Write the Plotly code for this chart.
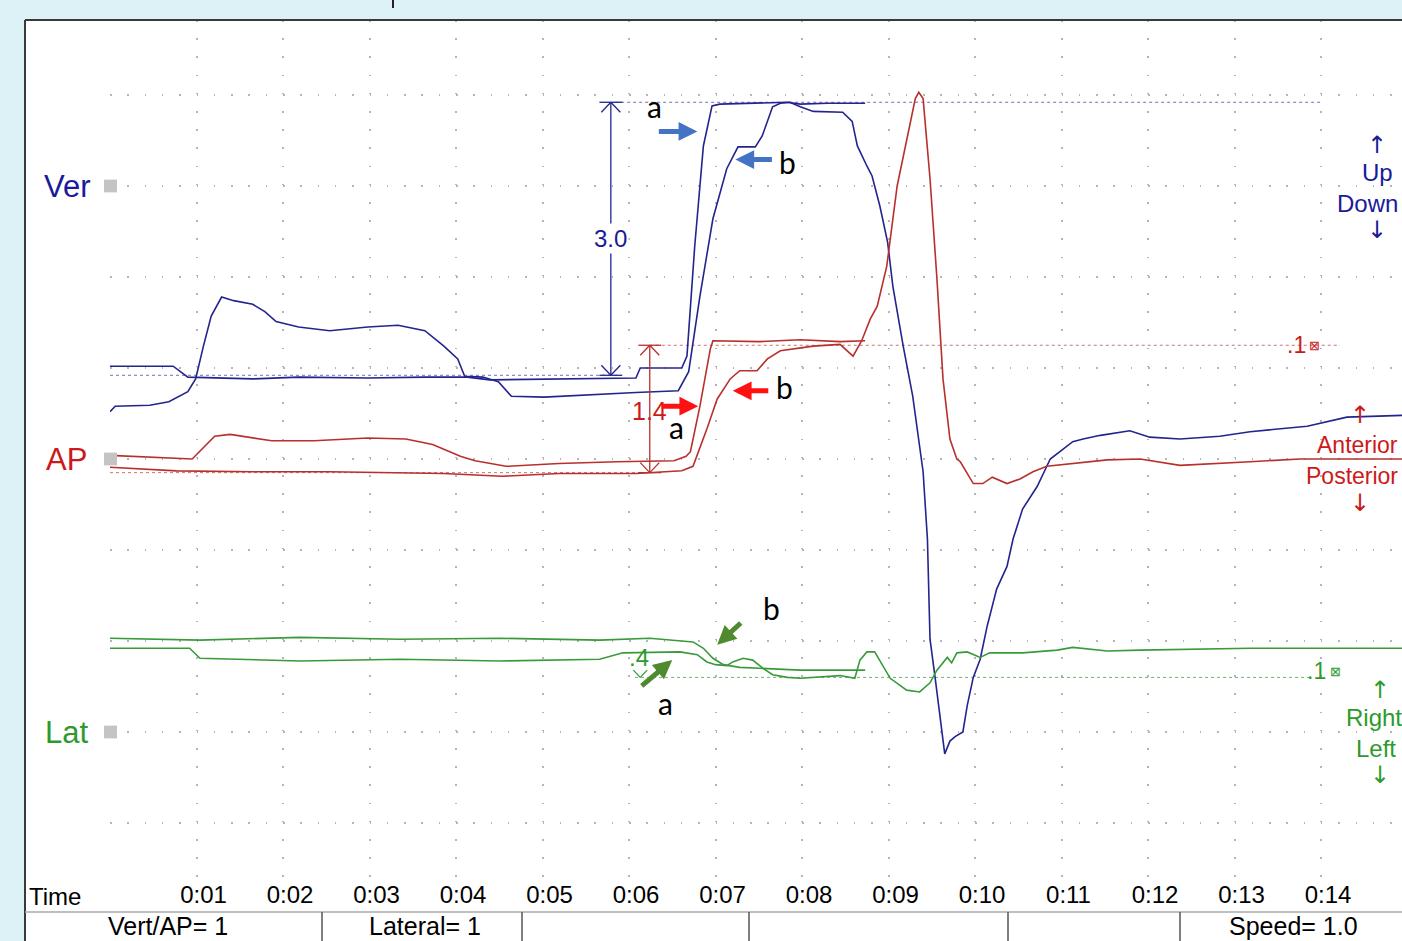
import plotly.graph_objects as go

FONT = "Liberation Sans, Arial, sans-serif"
FONT_AB = "Lato, Liberation Sans, sans-serif"
FONT_ARROW = "DejaVu Sans, sans-serif"

# ---------------- data ----------------
tick_secs = list(range(0, 15))
tick_text = [""] + ["0:%02d" % s for s in range(1, 15)]

channel_names = ["Ver", "AP", "Lat"]
channel_offset = [6, 3, 0]          # display row of each channel (divisions)

# Vertical channel (units) vs time (s)
ver_a_t = [0, 0.73, 0.90, 1.65, 2.18, 2.98, 3.64, 4.13, 4.39, 5.02, 5.68, 6.08, 6.13, 6.61,
           6.67, 6.76, 6.86, 6.96, 7.05, 7.51, 7.83, 7.98, 8.30, 8.73]
ver_a_v = [-1.98, -1.98, -2.10, -2.12, -2.10, -2.11, -2.10, -2.10, -2.13, -2.12, -2.11, -2.11,
           -2.00, -2.00, -1.87, -0.66, 0.44, 0.88, 0.90, 0.91, 0.92, 0.90, 0.91, 0.91]

ver_b_t = [0, 0.06, 0.46, 0.68, 0.90, 0.99, 1.08, 1.17, 1.29, 1.43, 1.65, 1.79, 1.92, 2.18,
           2.54, 2.98, 3.33, 3.64, 3.86, 4.02, 4.10, 4.31, 4.49, 4.64, 5.02, 5.41, 6.08, 6.57,
           6.69, 6.82, 6.97, 7.13, 7.26, 7.46, 7.54, 7.66, 7.75, 7.86, 7.98, 8.13, 8.47, 8.58,
           8.64, 8.75, 8.81, 8.90, 8.99, 9.05, 9.17, 9.28, 9.40, 9.45, 9.48, 9.54, 9.60, 9.65,
           9.71, 9.77, 9.86, 9.91, 9.98, 10.06, 10.14, 10.25, 10.37, 10.44, 10.55, 10.72, 10.87,
           11.13, 11.25, 11.45, 11.79, 12.02, 12.37, 12.83, 13.18, 13.53, 13.84, 14.30, 14.94]
ver_b_v = [-2.48, -2.42, -2.41, -2.37, -2.26, -2.12, -1.76, -1.43, -1.22, -1.26, -1.30, -1.38,
           -1.49, -1.55, -1.59, -1.55, -1.53, -1.59, -1.76, -1.90, -2.09, -2.10, -2.15, -2.31,
           -2.32, -2.30, -2.27, -2.25, -2.04, -1.21, -0.36, 0.19, 0.43, 0.43, 0.55, 0.87, 0.91,
           0.92, 0.87, 0.82, 0.81, 0.71, 0.44, 0.22, 0.11, -0.22, -0.62, -1.10, -1.76, -2.31,
           -3.14, -3.88, -4.98, -5.41, -5.88, -6.24, -6.10, -6.05, -6.00, -5.71, -5.40, -5.20,
           -4.84, -4.43, -4.18, -3.88, -3.55, -3.30, -3.00, -2.81, -2.78, -2.74, -2.69, -2.76,
           -2.78, -2.75, -2.70, -2.67, -2.64, -2.54, -2.52]

# Anterior/posterior channel
ap_a_t = [0, 0.95, 1.21, 1.39, 1.87, 2.36, 2.98, 3.42, 3.73, 4.05, 4.22, 4.58, 5.19, 5.86,
          6.52, 6.66, 6.71, 6.82, 6.94, 6.97, 7.51, 7.98, 8.44, 8.73]
ap_a_v = [0.04, 0.00, 0.25, 0.27, 0.20, 0.20, 0.23, 0.22, 0.16, 0.03, -0.02, -0.08, -0.05,
          -0.03, -0.02, 0.03, 0.08, 0.58, 1.21, 1.30, 1.29, 1.31, 1.29, 1.30]

ap_b_t = [0, 0.77, 1.65, 2.54, 3.86, 4.53, 5.19, 6.08, 6.61, 6.74, 6.90, 7.02, 7.17, 7.28,
          7.48, 7.60, 7.75, 8.13, 8.44, 8.59, 8.69, 8.79, 8.87, 8.98, 9.10, 9.21, 9.31, 9.35,
          9.40, 9.48, 9.56, 9.63, 9.71, 9.79, 9.83, 9.98, 10.09, 10.20, 10.37, 10.52, 10.67,
          10.83, 11.13, 11.53, 11.91, 12.37, 13.18, 13.76, 14.94]
ap_b_v = [-0.09, -0.13, -0.14, -0.14, -0.16, -0.19, -0.16, -0.16, -0.13, -0.08, 0.33, 0.66,
          0.88, 0.97, 0.97, 1.10, 1.19, 1.24, 1.26, 1.13, 1.30, 1.54, 1.68, 2.12, 3.00, 3.52,
          3.96, 4.03, 3.96, 3.08, 1.98, 0.88, 0.22, 0.00, -0.03, -0.27, -0.27, -0.20, -0.27,
          -0.22, -0.14, -0.08, -0.05, -0.01, 0.00, -0.07, -0.03, 0.00, 0.00]

# Lateral channel
lat_a_t = [0, 1.04, 2.20, 3.35, 4.51, 5.66, 6.24, 6.74, 6.86, 6.97, 7.09, 7.28, 7.51, 7.98, 8.73]
lat_a_v = [1.03, 1.01, 1.04, 1.02, 1.03, 1.01, 1.03, 0.99, 0.92, 0.81, 0.74, 0.71, 0.70, 0.68, 0.68]

lat_b_t = [0, 0.92, 1.04, 2.20, 3.35, 4.51, 5.66, 5.93, 6.59, 6.79, 6.90, 7.00, 7.13, 7.20,
           7.32, 7.43, 7.55, 7.66, 7.83, 7.98, 8.44, 8.61, 8.67, 8.75, 8.84, 9.02, 9.21, 9.36,
           9.48, 9.56, 9.68, 9.73, 9.79, 9.91, 10.06, 10.17, 10.55, 10.95, 11.13, 11.53, 11.91,
           13.18, 14.94]
lat_b_v = [0.92, 0.92, 0.81, 0.78, 0.80, 0.78, 0.80, 0.87, 0.88, 0.85, 0.77, 0.74, 0.73, 0.77,
           0.81, 0.79, 0.70, 0.63, 0.60, 0.59, 0.62, 0.59, 0.79, 0.88, 0.88, 0.59, 0.46, 0.44,
           0.54, 0.68, 0.82, 0.76, 0.87, 0.88, 0.82, 0.87, 0.87, 0.90, 0.93, 0.89, 0.90, 0.92,
           0.92]

# measurement annotations (units)
ver_meas = 3.0
ap_meas = 1.4
lat_meas = 0.4

# ---------------- styling ----------------
C_VER, C_AP, C_LAT = "#24248e", "#b8302c", "#3a9a3a"
T_VER, T_AP, T_LAT = "#1a1a9a", "#cc1a1a", "#2e9a2e"
A_BLUE, A_RED, A_GREEN = "#4472c4", "#ff1111", "#4f8a2f"

L, T, W, H = 110, 20, 1292, 858          # plot area in page pixels


def px(x):
    return (x - L) / W


def py(y):
    return (T + H - y) / H


fig = go.Figure()
series = [
    (ver_a_t, ver_a_v, 0, C_VER), (ver_b_t, ver_b_v, 0, C_VER),
    (ap_a_t, ap_a_v, 1, C_AP), (ap_b_t, ap_b_v, 1, C_AP),
    (lat_a_t, lat_a_v, 2, C_LAT), (lat_b_t, lat_b_v, 2, C_LAT),
]
for tt, vv, ch, col in series:
    off = channel_offset[ch]
    fig.add_trace(go.Scatter(x=tt, y=[v + off for v in vv], mode="lines",
                             line=dict(color=col, width=1.6), hoverinfo="skip",
                             showlegend=False))

shapes = []
# white panel + border
shapes.append(dict(type="rect", xref="paper", yref="paper", x0=px(25), x1=px(1410),
                   y0=py(950), y1=py(20), fillcolor="white", line=dict(width=0), layer="below"))
shapes.append(dict(type="line", xref="paper", yref="paper", x0=px(25), x1=px(1410),
                   y0=py(20), y1=py(20), line=dict(color="#3a3a3a", width=2)))
shapes.append(dict(type="line", xref="paper", yref="paper", x0=px(25), x1=px(25),
                   y0=py(20), y1=py(950), line=dict(color="#3a3a3a", width=2)))
shapes.append(dict(type="line", xref="paper", yref="paper", x0=px(393), x1=px(393),
                   y0=py(0), y1=py(8), line=dict(color="#222", width=2)))
# status bar
shapes.append(dict(type="line", xref="paper", yref="paper", x0=px(25), x1=px(1410),
                   y0=py(912), y1=py(912), line=dict(color="#aaaaaa", width=1.5)))
for sx in [322, 522, 749, 1008, 1180]:
    shapes.append(dict(type="line", xref="paper", yref="paper", x0=px(sx), x1=px(sx),
                       y0=py(912), y1=py(945), line=dict(color="#555555", width=1.5)))
# channel squares
for off in channel_offset:
    shapes.append(dict(type="rect", xref="paper", yref="y", x0=px(104), x1=px(117),
                       y0=off - 0.07, y1=off + 0.07, fillcolor="#c4c4c4", line=dict(width=0)))


def dotted(x0, x1, y, col):
    shapes.append(dict(type="line", xref="x", yref="y", x0=x0, x1=x1, y0=y, y1=y,
                       line=dict(color=col, width=1, dash="dot"), layer="below"))


def seg(x0, y0, x1, y1, col, w=1.3):
    shapes.append(dict(type="line", xref="x", yref="y", x0=x0, x1=x1, y0=y0, y1=y1,
                       line=dict(color=col, width=w)))


def measure(t, lo, hi, col, dx=0.11, dy=0.11):
    seg(t, lo, t, hi, col)
    seg(t - dx * 1.2, hi, t + dx * 1.2, hi, col)
    seg(t - dx, hi - dy, t, hi, col)
    seg(t + dx, hi - dy, t, hi, col)
    seg(t - dx, lo + dy, t, lo, col)
    seg(t + dx, lo + dy, t, lo, col)
    seg(t - dx * 1.2, lo, t + dx * 1.2, lo, col)


# reference dotted lines + measurement bars
ver_top = channel_offset[0] + 0.92
ver_bot = ver_top - ver_meas
dotted(5.84, 13.99, ver_top, "#7070b8")
dotted(0, 5.90, ver_bot, "#7070b8")
measure(5.79, ver_bot, ver_top, C_VER)

ap_bot = channel_offset[1] - 0.15
ap_top = ap_bot + ap_meas
dotted(6.24, 14.22, ap_top, "#d07070")
dotted(0, 6.24, ap_bot, "#d07070")
measure(6.24, ap_bot, ap_top, C_AP)

lat_bot = channel_offset[2] + 0.60
lat_top = lat_bot + lat_meas
dotted(6.07, 13.87, lat_bot, "#70b070")
seg(6.05, lat_bot + 0.08, 6.13, lat_bot, C_LAT)
seg(6.21, lat_bot + 0.08, 6.13, lat_bot, C_LAT)

annotations = []


def ann(text, x, y, color, size, xref="paper", yref="paper", xanchor="center",
        yanchor="middle", family=FONT, **kw):
    annotations.append(dict(text=text, x=x, y=y, xref=xref, yref=yref, showarrow=False,
                            xanchor=xanchor, yanchor=yanchor,
                            font=dict(color=color, size=size, family=family), **kw))


# channel names
ann(channel_names[0], px(93), channel_offset[0], T_VER, 31, yref="y", xanchor="right")
ann(channel_names[1], px(89), channel_offset[1], T_AP, 31, yref="y", xanchor="right")
ann(channel_names[2], px(90), channel_offset[2], T_LAT, 31, yref="y", xanchor="right")

# right side direction labels (kept just inside the page edge)
ann("Up", px(1377), py(172), T_VER, 24)
ann("Down", px(1400), py(204), T_VER, 24, xanchor="right")
ann("Anterior", px(1400), py(445), T_AP, 23, xanchor="right")
ann("Posterior", px(1400), py(476), T_AP, 23, xanchor="right")
ann("Right", px(1374), py(717), T_LAT, 24)
ann("Left", px(1376), py(748), T_LAT, 24)
for txt, x, y, col in [("\u2191", 1377, 145, T_VER), ("\u2193", 1377, 230, T_VER),
                       ("\u2191", 1360, 415, T_AP), ("\u2193", 1360, 503, T_AP),
                       ("\u2191", 1380, 690, T_LAT), ("\u2193", 1380, 775, T_LAT)]:
    ann(txt, px(x), py(y), col, 24, family=FONT_ARROW)

# scale markers
ann(".1", px(1308), ap_top, T_AP, 23, yref="y", xanchor="right")
ann("\u22a0", px(1314), ap_top, T_AP, 13, yref="y")
ann(".1", px(1328), lat_bot + 0.07, T_LAT, 23, yref="y", xanchor="right")
ann("\u22a0", px(1335), lat_bot + 0.07, T_LAT, 13, yref="y")

# measurement values
ann("%.1f" % ver_meas, 5.79, 5.42, T_VER, 24, xref="x", yref="y", bgcolor="white")
ann("%.1f" % ap_meas, 6.24, 3.53, T_AP, 25, xref="x", yref="y")
ann(".4", 6.12, 0.82, T_LAT, 24, xref="x", yref="y")

# a / b labels
for txt, x, y in [("a", 6.30, 6.88), ("b", 7.83, 6.26), ("a", 6.55, 3.35), ("b", 7.80, 3.79),
                  ("b", 7.65, 1.36), ("a", 6.42, 0.32)]:
    ann(txt, x, y, "black", 30, xref="x", yref="y", family=FONT_AB)

# pointing arrows
for x, y, ax, ay, col in [(6.79, 6.60, -40, 0, A_BLUE), (7.23, 6.29, 38, 0, A_BLUE),
                          (6.80, 3.58, -38, 0, A_RED), (7.20, 3.75, 37, 0, A_RED),
                          (7.02, 0.96, 25, -23, A_GREEN), (6.50, 0.79, -32, 27, A_GREEN)]:
    annotations.append(dict(x=x, y=y, xref="x", yref="y", ax=ax, ay=ay, text="",
                            showarrow=True, arrowhead=2, arrowsize=0.75, arrowwidth=5,
                            arrowcolor=col))

# bottom labels
ann("Time", px(27), py(896), "black", 24, xanchor="left")
for txt, x in [("Vert/AP= 1", 168), ("Lateral= 1", 425), ("Speed= 1.0", 1293)]:
    ann(txt, px(x), py(941), "black", 25, yanchor="bottom", borderpad=0)

fig.update_layout(
    width=1402, height=941,
    margin=dict(l=L, r=0, t=T, b=941 - T - H, pad=0),
    paper_bgcolor="#ddf2f6", plot_bgcolor="white",
    shapes=shapes, annotations=annotations,
    font=dict(family=FONT),
)
fig.update_xaxes(range=[0, W / 86.5], tickvals=tick_secs, ticktext=tick_text,
                 showgrid=True, gridcolor="#b4b4b4", gridwidth=1.5, griddash="1.5px,16.7px",
                 zeroline=False, showline=False, ticks="",
                 tickfont=dict(size=24, color="black", family=FONT),
                 ticklabelshift=7, ticklabelstandoff=0, fixedrange=True)
fig.update_yaxes(range=[-146 / 91, 712 / 91], tickvals=list(range(-1, 8)),
                 showticklabels=False, showgrid=True, gridcolor="#b4b4b4", gridwidth=1.5,
                 griddash="1.5px,15.8px", zeroline=False, showline=False, ticks="",
                 fixedrange=True)

fig.write_html("out.html", config={"displayModeBar": False},
               post_script="document.body.style.margin='0';")
